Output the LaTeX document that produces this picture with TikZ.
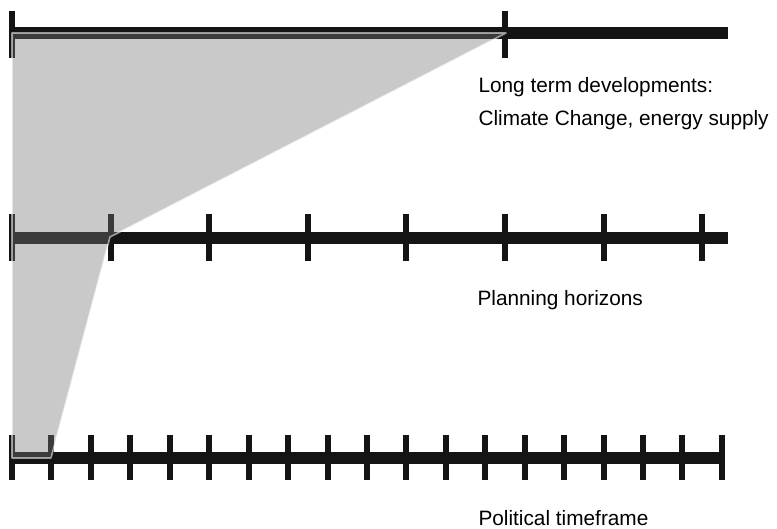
\documentclass[tikz,border=0pt]{standalone}
\usepackage{fontspec}
\setmainfont{Liberation Sans}

\definecolor{barblack}{RGB}{20,20,20}
\definecolor{spangray}{RGB}{119,119,119}

\tikzset{every picture/.style={line width=0.75pt}}
\tikzset{
  timebar/.style={draw=barblack, line width=9pt},
  tickmark/.style={draw=barblack, line width=4.5pt},
  span/.style={fill=spangray, fill opacity=0.4, draw=white, draw opacity=0.55, line width=1.2pt, line join=round},
  caption/.style={anchor=base west, inner sep=0pt, font=\fontsize{15.6}{25.5}\selectfont}
}

\begin{document}
\begin{tikzpicture}[x=0.75pt,y=0.75pt,yscale=-1,xscale=1]
\path[use as bounding box] (0,0) rectangle (777,528);

%Long term bar
\draw [timebar] (9,33.5) -- (728,33.5) ;
\draw [tickmark] (12,11) -- (12,58) (505,11) -- (505,58) ;

%Planning bar
\draw [timebar] (9,237.5) -- (728,237.5) ;
\draw [tickmark] (12,214) -- (12,261) (110.6,214) -- (110.6,261) (209.2,214) -- (209.2,261) (307.8,214) -- (307.8,261) (406.4,214) -- (406.4,261) (505,214) -- (505,261) (603.6,214) -- (603.6,261) (702.2,214) -- (702.2,261) ;

%Political bar
\draw [timebar] (9,458) -- (725,458) ;
\draw [tickmark] (12,435) -- (12,480) (51.44,435) -- (51.44,480) (90.88,435) -- (90.88,480) (130.32,435) -- (130.32,480) (169.76,435) -- (169.76,480) (209.2,435) -- (209.2,480) (248.64,435) -- (248.64,480) (288.08,435) -- (288.08,480) (327.52,435) -- (327.52,480) (366.96,435) -- (366.96,480) (406.4,435) -- (406.4,480) (445.84,435) -- (445.84,480) (485.28,435) -- (485.28,480) (524.72,435) -- (524.72,480) (564.16,435) -- (564.16,480) (603.6,435) -- (603.6,480) (643.04,435) -- (643.04,480) (682.48,435) -- (682.48,480) (721.92,435) -- (721.92,480) ;

%Shaded span
\draw [span] (12,33) -- (506,33) -- (110,237) -- (51,458) -- (12,458) -- cycle ;

% Text Node
\node [caption] (longterm) at (478,92) {Long term developments:} ;
% Text Node
\node [caption] (longtermb) at (478,125.5) {Climate Change, energy supply} ;
% Text Node
\node [caption] (planning) at (477,305.5) {Planning horizons} ;
% Text Node
\node [caption] (political) at (478,525) {Political timeframe} ;

\end{tikzpicture}
\end{document}
